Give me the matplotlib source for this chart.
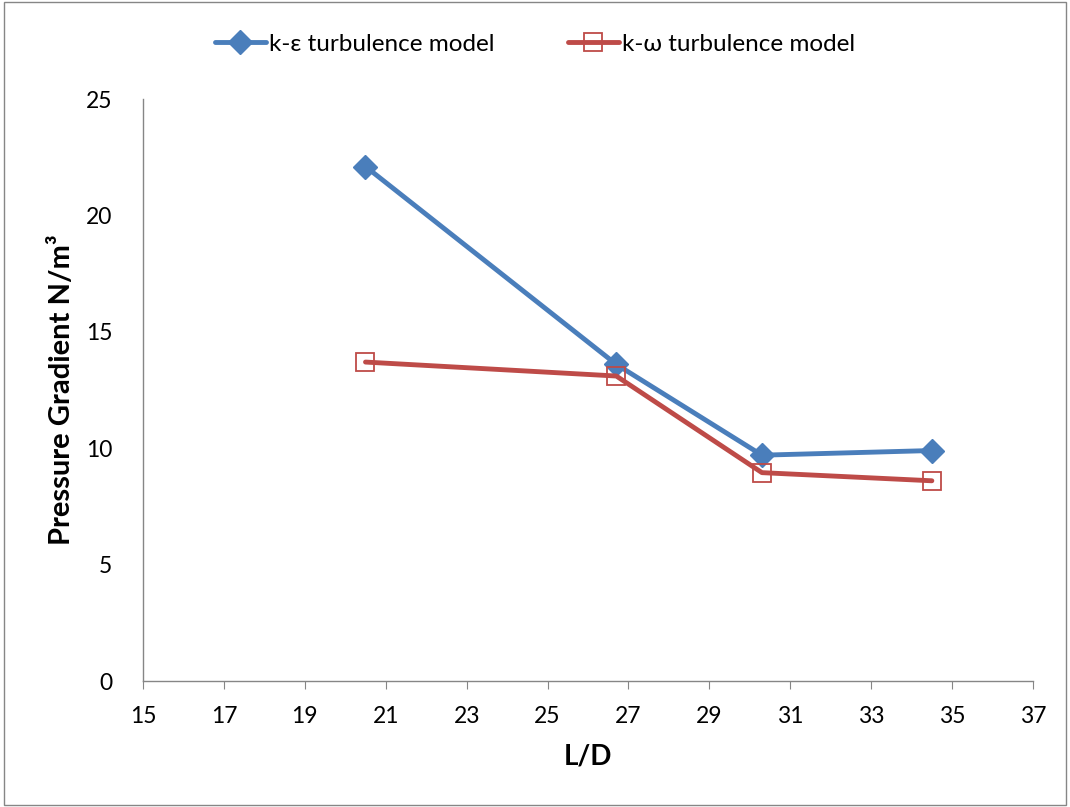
import matplotlib
matplotlib.use("Agg")
import matplotlib.pyplot as plt
from matplotlib.patches import Rectangle

# L/D ratios and pressure gradient results for both turbulence models
ld_ke = [20.5, 26.7, 30.3, 34.5]
dp_ke = [22.1, 13.6, 9.7, 9.9]

ld_kw = [20.5, 26.7, 30.3, 34.5]
dp_kw = [13.7, 13.1, 8.95, 8.6]

x_ticks = [15, 17, 19, 21, 23, 25, 27, 29, 31, 33, 35, 37]
y_ticks = [0, 5, 10, 15, 20, 25]

blue = "#4A7EBB"
red = "#BE4B48"
axis_gray = "#868686"

plt.rcParams["font.family"] = ["Lato", "DejaVu Sans"]

fig = plt.figure(figsize=(10.70, 8.07), dpi=100)
ax = fig.add_axes([143 / 1070, 1 - 681 / 807, (1033 - 143) / 1070, (681 - 99) / 807])

ax.plot(ld_ke, dp_ke, color=blue, lw=3.5, marker="D", ms=12,
        mfc=blue, mec=blue, label="k-ε turbulence model", solid_capstyle="round")
ax.plot(ld_kw, dp_kw, color=red, lw=3.5, marker="s", ms=13,
        mfc="none", mec=red, mew=1.3, label="k-ω turbulence model", solid_capstyle="round")

ax.set_xlim(15, 37)
ax.set_ylim(0, 25)
ax.set_xticks(x_ticks)
ax.set_yticks(y_ticks)
ax.tick_params(axis="x", direction="out", length=6, color=axis_gray, labelsize=16.5, pad=12)
ax.tick_params(axis="y", length=0, labelsize=16.5, pad=22)

for side in ("top", "right"):
    ax.spines[side].set_visible(False)
for side in ("left", "bottom"):
    ax.spines[side].set_color(axis_gray)
    ax.spines[side].set_linewidth(1.0)

ax.set_xlabel("L/D", fontsize=20, fontweight="bold", labelpad=12)
ax.set_ylabel("Pressure Gradient N/m³", fontsize=21, fontweight="bold", labelpad=8)

leg = fig.legend(loc="center", bbox_to_anchor=(0.5, 1 - 44 / 807), ncol=2,
                 frameon=False, fontsize=17.5, handlelength=2.1, columnspacing=3.0,
                 handletextpad=0.15)

# chart area border
fig.patches.append(Rectangle((4 / 1070, 2 / 807), 1 - 8 / 1070, 1 - 4 / 807,
                             transform=fig.transFigure, fill=False,
                             edgecolor=axis_gray, lw=1.0))

fig.savefig("out.png", dpi=100)
